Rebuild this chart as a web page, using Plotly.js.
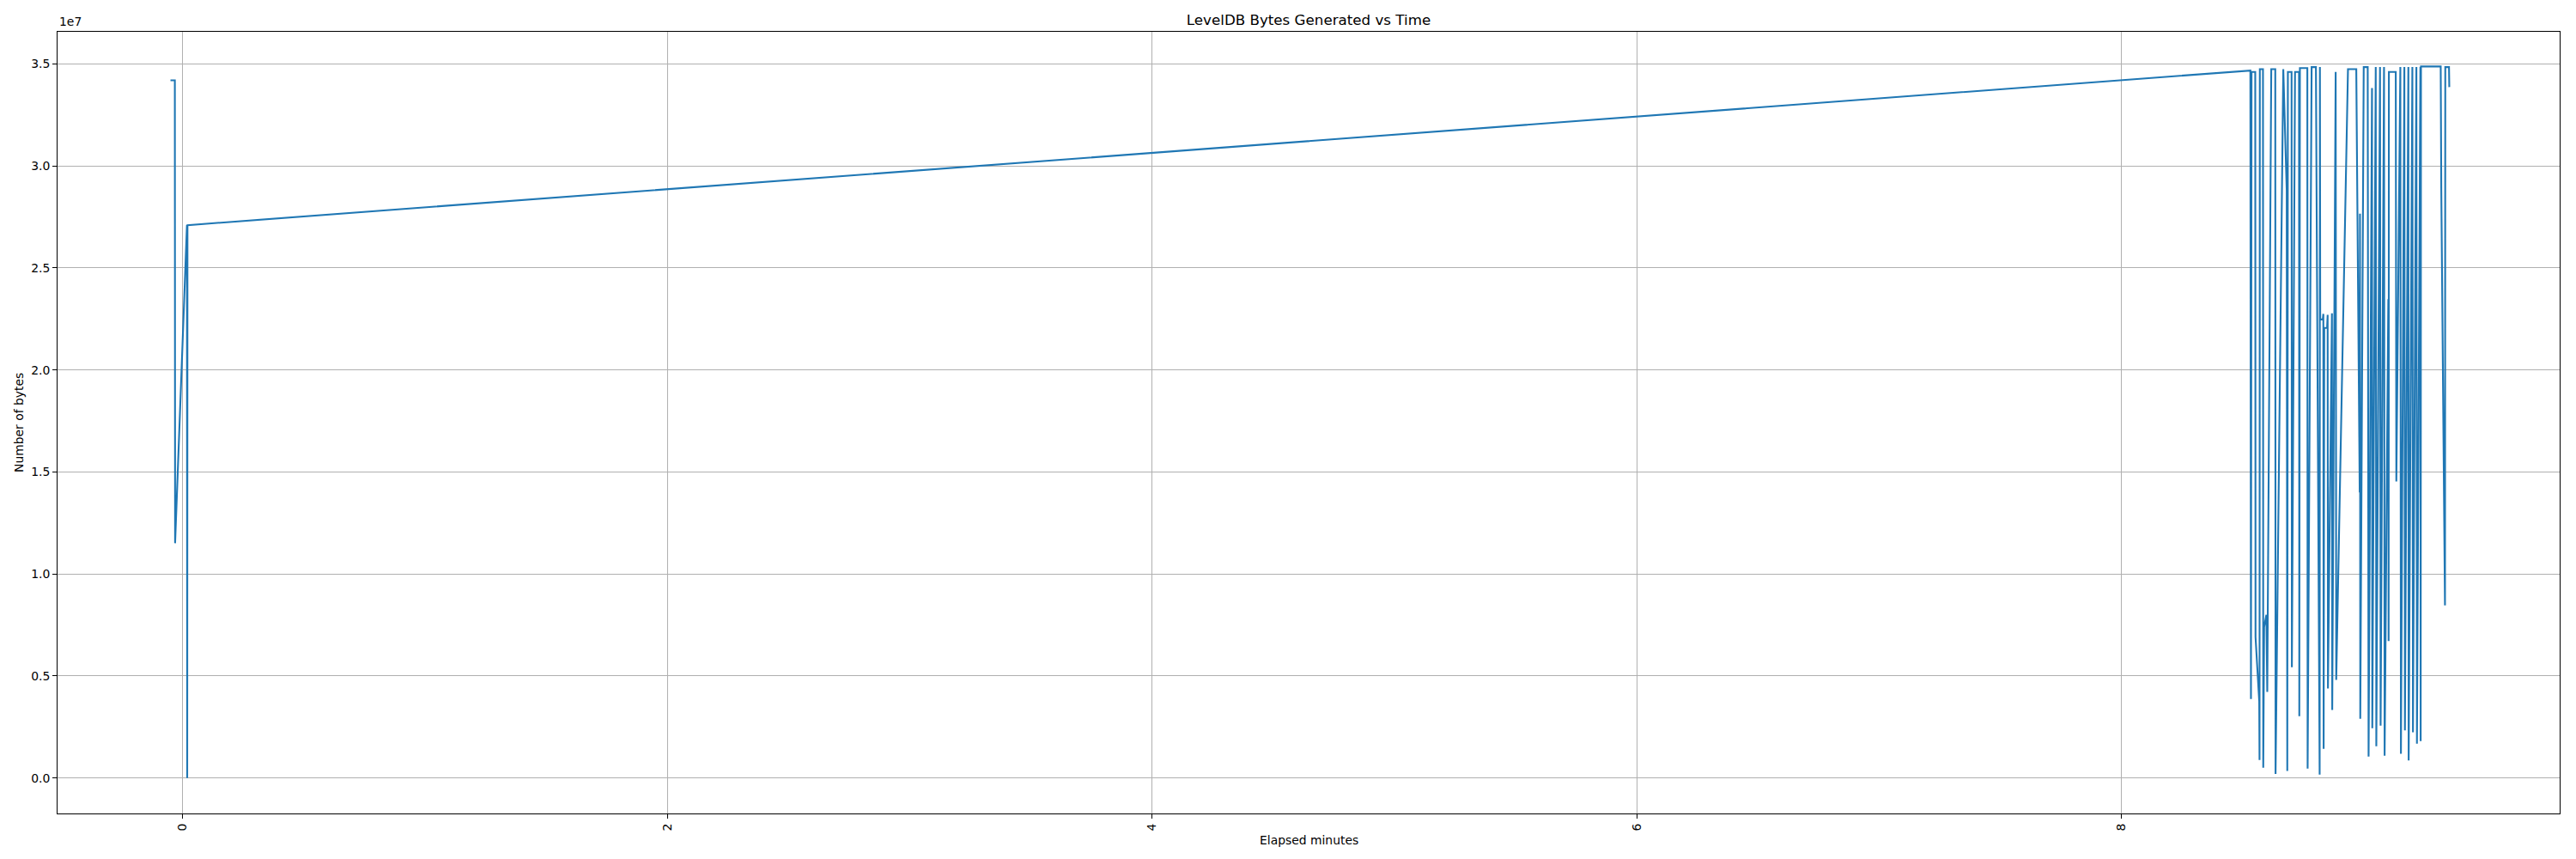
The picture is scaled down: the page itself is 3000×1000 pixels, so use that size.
<!DOCTYPE html>
<html>
<head>
<meta charset="utf-8">
<script src="https://cdn.plot.ly/plotly-3.0.1.min.js"></script>
<style>
html, body { margin: 0; padding: 0; background: #ffffff; }
#chart { width: 3000px; height: 1000px; }
</style>
</head>
<body>
<div id="chart"></div>
<script>
// Elapsed time in minutes (x) and LevelDB bytes generated (y)
var elapsedMinutes = [
  -0.050, -0.032, -0.031, 0.018, 0.019, 0.020,
  8.5309, 8.5333, 8.5356, 8.5510, 8.5522, 8.5675, 8.5687, 8.5699, 8.5829, 8.5840,
  8.5876, 8.5970, 8.6006, 8.6171, 8.6336, 8.6348, 8.6667, 8.6809, 8.6832, 8.6856,
  8.7009, 8.7021, 8.7151, 8.7316, 8.7328, 8.7352, 8.7659, 8.7671, 8.7836, 8.8013,
  8.8167, 8.8178, 8.8190, 8.8296, 8.8320, 8.8332, 8.8356, 8.8474, 8.8497, 8.8509,
  8.8674, 8.8686, 8.8828, 8.8851, 8.9336, 8.9678, 8.9820, 8.9831, 8.9843, 8.9985,
  9.0150, 9.0186, 9.0327, 9.0339, 9.0481, 9.0505, 9.0658, 9.0682, 9.0823, 9.0847,
  9.1000, 9.1012, 9.1024, 9.1307, 9.1331, 9.1496, 9.1520, 9.1662, 9.1685, 9.1827,
  9.1839, 9.1992, 9.2016, 9.2158, 9.2181, 9.2323, 9.2335, 9.2347, 9.3161, 9.3185,
  9.3338, 9.3350, 9.3504, 9.3516
];
var bytesGenerated = [
  34200000, 34200000, 11510000, 27100000, 0, 27100000,
  34680000, 3870000, 34610000, 34610000, 6900000, 3760000, 880000, 34750000, 34750000, 500000,
  7400000, 8000000, 4220000, 34750000, 34750000, 200000, 34750000, 28800000, 340000, 34610000,
  34610000, 5430000, 34610000, 34610000, 3030000, 34800000, 34800000, 460000, 34850000, 34850000,
  170000, 34850000, 22480000, 22480000, 22750000, 1430000, 22060000, 22060000, 22700000, 4390000,
  22780000, 3330000, 34610000, 4810000, 34750000, 34750000, 14000000, 27660000, 2900000, 34850000,
  34850000, 1050000, 33820000, 2440000, 34850000, 1560000, 34850000, 2570000, 34850000, 1090000,
  23470000, 6710000, 34610000, 34610000, 14540000, 34850000, 1190000, 34850000, 2330000, 34850000,
  860000, 34850000, 2240000, 34850000, 1680000, 34850000, 1810000, 34880000, 34880000, 28910000,
  8460000, 34850000, 34850000, 33870000
];
var xTickValues = [0, 2, 4, 6, 8];
var xTickLabels = ["0", "2", "4", "6", "8"];
var yTickValues = [0, 5000000, 10000000, 15000000, 20000000, 25000000, 30000000, 35000000];
var yTickLabels = ["0.0", "0.5", "1.0", "1.5", "2.0", "2.5", "3.0", "3.5"];

var FONT = "DejaVu Sans, Liberation Sans, sans-serif";

var trace = {
  x: elapsedMinutes,
  y: bytesGenerated,
  type: "scatter",
  mode: "lines",
  line: { color: "#1f77b4", width: 2.1 },
  hoverinfo: "skip"
};

var axisCommon = {
  showgrid: true,
  gridcolor: "#b0b0b0",
  gridwidth: 1,
  zeroline: false,
  showline: true,
  linecolor: "#000000",
  linewidth: 1,
  mirror: true,
  ticks: "outside",
  ticklen: 5,
  tickwidth: 1,
  tickcolor: "#000000",
  tickfont: { family: FONT, size: 13.9, color: "#000000" },
  fixedrange: true
};

var layout = {
  width: 3000,
  height: 1000,
  paper_bgcolor: "#ffffff",
  plot_bgcolor: "#ffffff",
  showlegend: false,
  margin: { l: 67, r: 19, t: 37, b: 53, pad: 0 },
  font: { family: FONT, color: "#000000" },
  title: {
    text: "LevelDB Bytes Generated vs Time",
    font: { family: FONT, size: 16.7, color: "#000000" },
    x: 0.5, xref: "paper", xanchor: "center",
    y: 0.977, yref: "container", yanchor: "middle"
  },
  xaxis: Object.assign({}, axisCommon, {
    range: [-0.516, 9.807],
    tickmode: "array",
    tickvals: xTickValues,
    ticktext: xTickLabels,
    tickangle: -90
  }),
  yaxis: Object.assign({}, axisCommon, {
    range: [-1740000, 36580000],
    tickmode: "array",
    tickvals: yTickValues,
    ticktext: yTickLabels
  }),
  annotations: [
    {
      text: "1e7", xref: "paper", yref: "paper", x: 0, y: 1,
      xanchor: "left", yanchor: "bottom", yshift: 2, showarrow: false,
      font: { family: FONT, size: 13.9, color: "#000000" }
    },
    {
      text: "Elapsed minutes", xref: "paper", yref: "paper", x: 0.5, y: 0,
      xanchor: "center", yanchor: "middle", yshift: -31, showarrow: false,
      font: { family: FONT, size: 13.9, color: "#000000" }
    },
    {
      text: "Number of bytes", xref: "paper", yref: "paper", x: 0, y: 0.5,
      xanchor: "center", yanchor: "middle", xshift: -45, textangle: -90, showarrow: false,
      font: { family: FONT, size: 13.9, color: "#000000" }
    }
  ]
};

Plotly.newPlot("chart", [trace], layout, { displayModeBar: false, staticPlot: true });
</script>
</body>
</html>
